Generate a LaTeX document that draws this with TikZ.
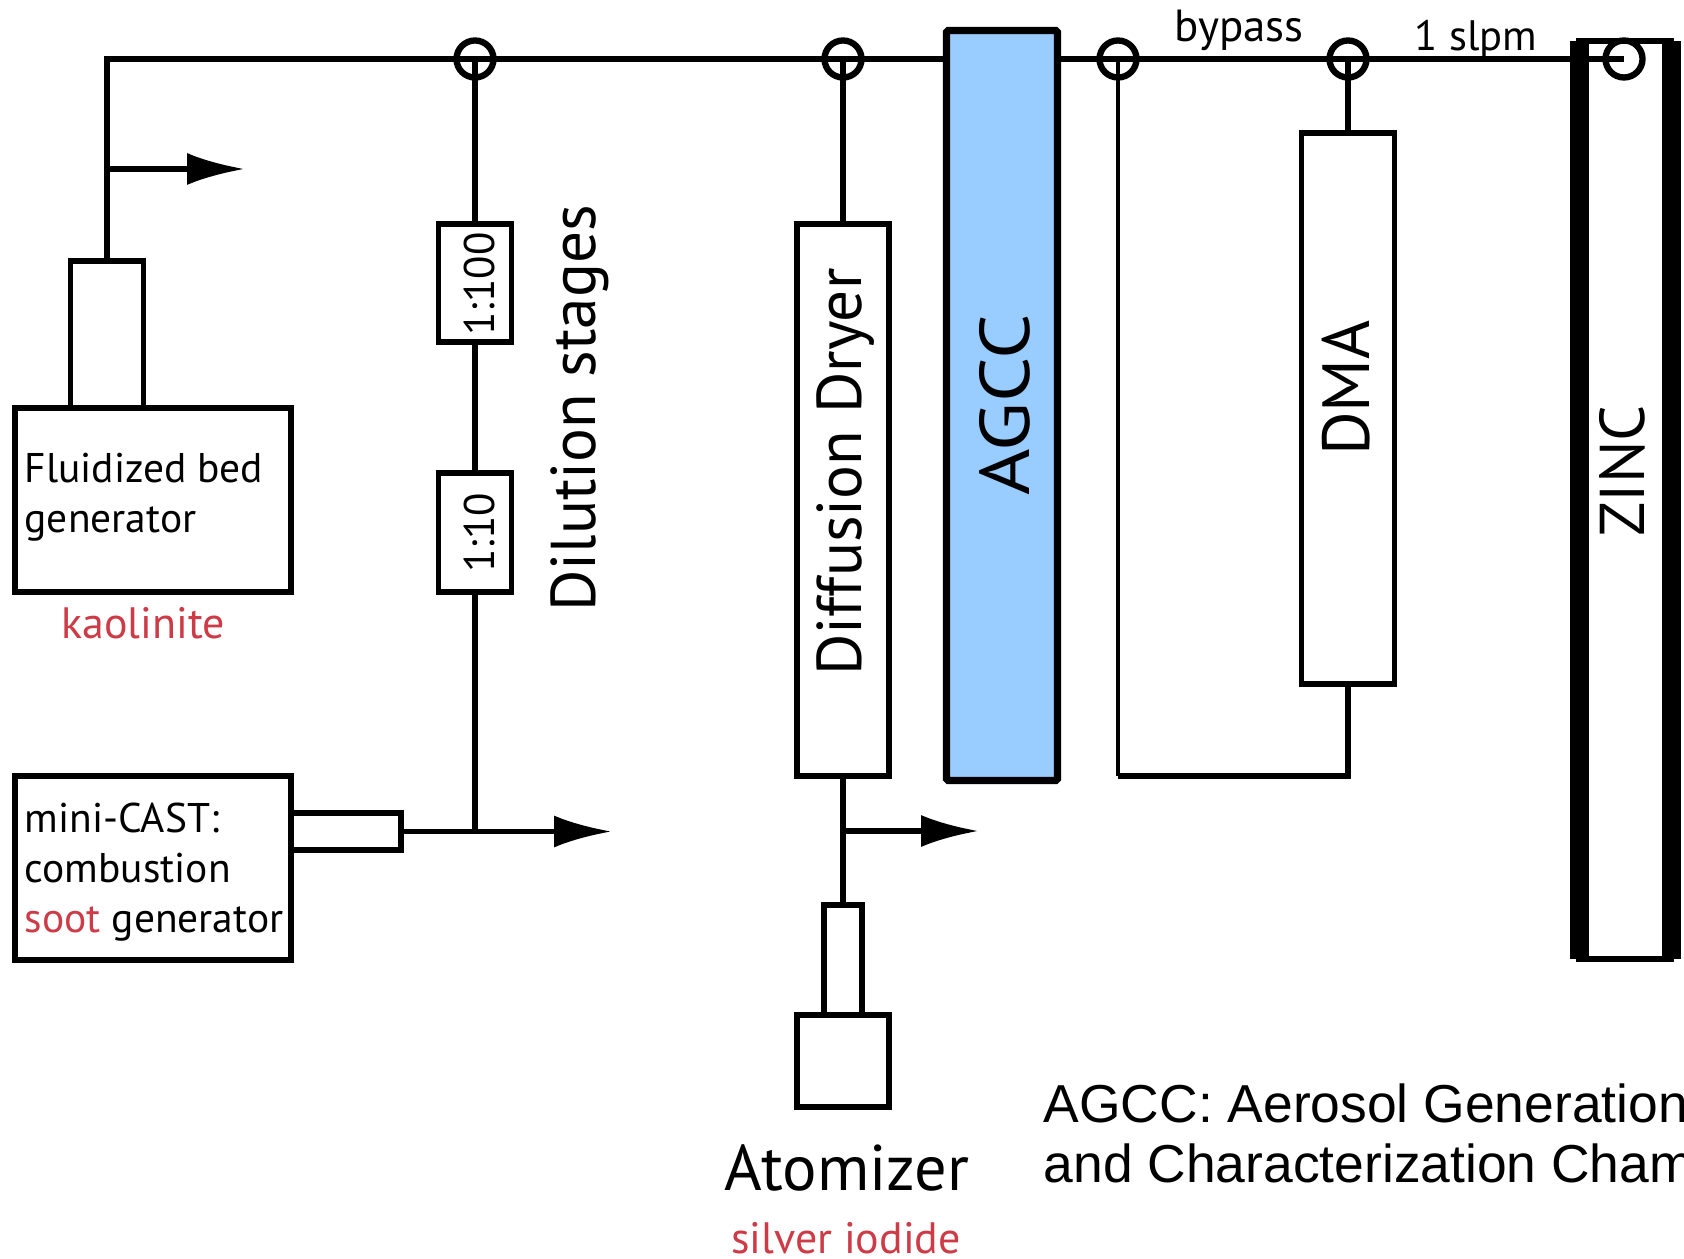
\documentclass[tikz,border=0pt]{standalone}
\usepackage{fontspec}
\usepackage{xcolor}
\setmainfont{PT Sans}
\newfontfamily\arialfont{Liberation Sans}
\usetikzlibrary{positioning,calc,arrows.meta}
\definecolor{matred}{HTML}{CD3B47}
\definecolor{agccblue}{HTML}{99CCFF}
\tikzset{
  box/.style={draw=black, line width=1.65pt, fill=white, rectangle, inner sep=0pt, outer sep=0pt},
  pipe/.style={draw=black, line width=1.65pt},
  outflow/.style={pipe, -{Latex[length=5.8mm,width=3.2mm]}},
  valve/.style={draw=black, line width=1.8pt, circle, minimum size=3.7mm, inner sep=0pt, outer sep=0pt},
  smalltxt/.style={font=\fontsize{11.8}{14.3}\selectfont, inner sep=0pt},
  redtxt/.style={font=\fontsize{12.5}{15}\selectfont, inner sep=0pt, text=matred},
  flowtxt/.style={font=\fontsize{12.2}{15}\selectfont, inner sep=0pt},
  bigtxt/.style={font=\fontsize{18}{22}\selectfont, inner sep=0pt},
  legendtxt/.style={font=\arialfont\fontsize{15.2}{18}\selectfont, inner sep=0pt},
}

\begin{document}
\begin{tikzpicture}
  \useasboundingbox (0, 0) rectangle (16.84, 12.58);

  % Valves on the main line
  \node[valve] (v_stage) at (4.75, 11.99) {};
  \node[valve] (v_dryer) at (8.43, 11.99) {};
  \node[valve] (v_bypass) at (11.18, 11.99) {};
  \node[valve] (v_dma) at (13.48, 11.99) {};
  \coordinate (c_corner) at (1.07, 11.99);

  % Fluidized bed generator
  \node[box, minimum width=2.76cm, minimum height=1.84cm] (fbbox) at (1.53, 7.58) {};
  \node[box, minimum width=0.73cm, minimum height=1.47cm] (fbneck) at (1.07, 9.235) {};
  \coordinate (c_fbtap) at (1.07, 10.89);
  \coordinate (c_fbtip) at (2.45, 10.89);
  \node[smalltxt, anchor=north west, align=left] (t_fb) at (0.24, 8.055) {Fluidized bed\\generator};
  \node[redtxt, anchor=base] (t_kaolinite) at (1.43, 6.2) {kaolinite};

  % mini-CAST
  \node[box, minimum width=2.76cm, minimum height=1.84cm] (castbox) at (1.53, 3.90) {};
  \node[box, minimum width=1.10cm, minimum height=0.37cm] (casttube) at (3.46, 4.265) {};
  \coordinate (c_casttap) at (4.75, 4.265);
  \coordinate (c_casttip) at (6.12, 4.265);
  \node[smalltxt, anchor=north west, align=left] (t_cast) at (0.24, 4.56) {mini-CAST:\\combustion\\\textcolor{matred}{soot} generator};

  % Dilution stages
  \node[box, minimum width=0.73cm, minimum height=1.18cm] (stage100) at (4.75, 9.75) {};
  \node[box, minimum width=0.73cm, minimum height=1.19cm] (stage10) at (4.75, 7.255) {};
  \node[flowtxt, rotate=90, anchor=base] (t_100) at (4.94, 9.74) {1:100};
  \node[flowtxt, rotate=90, anchor=base] (t_10) at (4.94, 7.25) {1:10};
  \node[bigtxt, rotate=90, anchor=base west] (t_dilution) at (5.95, 6.455) {Dilution stages};

  % Dryer and atomizer
  \node[box, minimum width=0.92cm, minimum height=5.52cm] (dryer) at (8.43, 7.58) {};
  \node[box, minimum width=0.38cm, minimum height=1.10cm] (atomneck) at (8.43, 2.98) {};
  \node[box, minimum width=0.92cm, minimum height=0.92cm] (atombox) at (8.43, 1.97) {};
  \coordinate (c_drytap) at (8.43, 4.27);
  \coordinate (c_drytip) at (9.79, 4.27);
  \node[bigtxt, rotate=90, anchor=base] (t_dryer) at (8.61, 7.86) {Diffusion Dryer};
  \node[bigtxt, font=\fontsize{18.35}{22}\selectfont, anchor=base] (t_atom) at (8.47, 0.68) {Atomizer};
  \node[redtxt, anchor=base] (t_silver) at (8.46, 0.05) {silver iodide};

  % AGCC
  \node[box, fill=agccblue, line width=2.1pt, rounded corners=0.5pt, minimum width=1.11cm, minimum height=7.50cm] (agcc) at (10.02, 8.525) {};
  \node[bigtxt, font=\fontsize{20}{22}\selectfont, rotate=90, anchor=base] (t_agcc) at (10.29, 8.53) {\scalebox{1.13}[1]{AGCC}};

  % DMA and bypass
  \node[box, minimum width=0.93cm, minimum height=5.51cm] (dma) at (13.48, 8.495) {};
  \node[bigtxt, font=\fontsize{19}{22}\selectfont, rotate=90, anchor=base] (t_dma) at (13.69, 8.70) {DMA};
  \coordinate (c_bypassl) at (11.18, 4.82);
  \coordinate (c_bypassr) at (13.48, 4.82);
  \node[flowtxt, font=\fontsize{12.8}{15}\selectfont, anchor=base] (t_bypass) at (12.39, 12.16) {bypass};
  \node[flowtxt, font=\fontsize{12.1}{15}\selectfont, anchor=base] (t_slpm) at (14.76, 12.07) {1 slpm};

  % ZINC
  \node[box, minimum width=0.92cm, minimum height=9.18cm] (zinc) at (16.25, 7.58) {};
  \draw[line width=5.4pt] (zinc.north west) -- (zinc.south west);
  \draw[line width=5.4pt] (zinc.north east) -- (zinc.south east);
  \node[bigtxt, rotate=90, anchor=base] (t_zinc) at (16.44, 7.87) {ZINC};
  \node[valve] (v_zinc) at (16.24, 11.99) {};

  % Main line
  \draw[pipe] (fbneck.north) -- (c_corner) -- (v_stage.center -| agcc.west);
  \draw[pipe] (v_stage.center -| agcc.east) -- (v_zinc.center);
  \draw[pipe] (v_stage.center) -- (stage100.north);
  \draw[pipe] (stage100.south) -- (stage10.north);
  \draw[pipe] (stage10.south) -- (c_casttap);
  \draw[pipe] (v_dryer.center) -- (dryer.north);
  \draw[pipe] (dryer.south) -- (atomneck.north);
  \draw[pipe] (v_dma.center) -- (dma.north);
  \draw[pipe, line width=1.3pt] (v_bypass.center) -- (c_bypassl);
  \draw[pipe] (c_bypassl) -- (c_bypassr) -- (dma.south);

  % Exhausts
  \draw[outflow] (c_fbtap) -- (c_fbtip);
  \draw[outflow] (casttube.east) -- (c_casttip);
  \draw[outflow] (c_drytap) -- (c_drytip);

  % Legend
  \node[legendtxt, anchor=base west] (t_legend1) at (10.43, 1.36) {AGCC: Aerosol Generation};
  \node[legendtxt, anchor=base west] (t_legend2) at (10.43, 0.76) {and Characterization Cham};
\end{tikzpicture}
\end{document}
